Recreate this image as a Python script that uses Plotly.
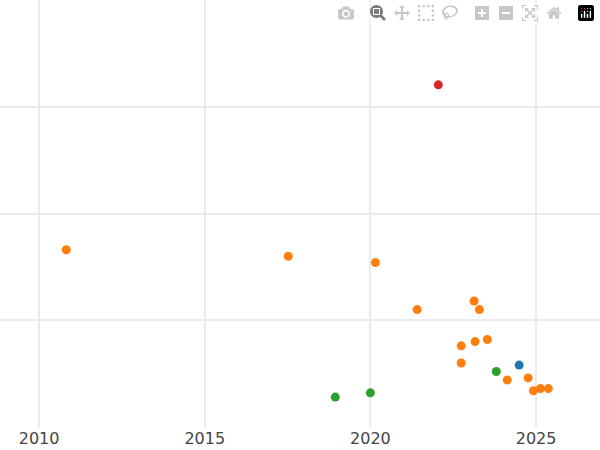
import plotly.graph_objects as go

orange_x = [2010.82, 2017.52, 2020.15, 2021.41, 2023.13, 2023.29, 2022.74, 2023.16, 2023.53, 2022.74, 2024.13, 2024.76, 2024.92, 2025.13, 2025.37]
orange_y = [1.66, 1.60, 1.54, 1.10, 1.18, 1.10, 0.76, 0.80, 0.82, 0.60, 0.44, 0.46, 0.34, 0.36, 0.36]
green_x = [2018.94, 2020.00, 2023.80]
green_y = [0.28, 0.32, 0.52]
blue_x = [2024.49]
blue_y = [0.58]
red_x = [2022.05]
red_y = [3.205]

fig = go.Figure()
for xs, ys, c in [(blue_x, blue_y, "#1f77b4"), (orange_x, orange_y, "#ff7f0e"),
                  (green_x, green_y, "#2ca02c"), (red_x, red_y, "#d62728")]:
    fig.add_trace(go.Scatter(x=xs, y=ys, mode="markers", marker=dict(color=c, size=9), showlegend=False))

fig.update_layout(width=600, height=450, margin=dict(l=0, r=0, t=0, b=23, pad=0),
                  plot_bgcolor="white", paper_bgcolor="white",
                  font=dict(family="DejaVu Sans", size=16, color="#444"))
fig.update_xaxes(range=[2008.82, 2026.93], tickvals=[2010, 2015, 2020, 2025],
                 showgrid=True, gridcolor="#ebebeb", gridwidth=2, zeroline=False, showline=False)
fig.update_yaxes(range=[0, 4], tickvals=[1, 2, 3], showticklabels=False,
                 showgrid=True, gridcolor="#ebebeb", gridwidth=1.5, zeroline=False)
fig.write_html("out.html", post_script="document.body.style.margin='0';document.body.style.padding='0';")
